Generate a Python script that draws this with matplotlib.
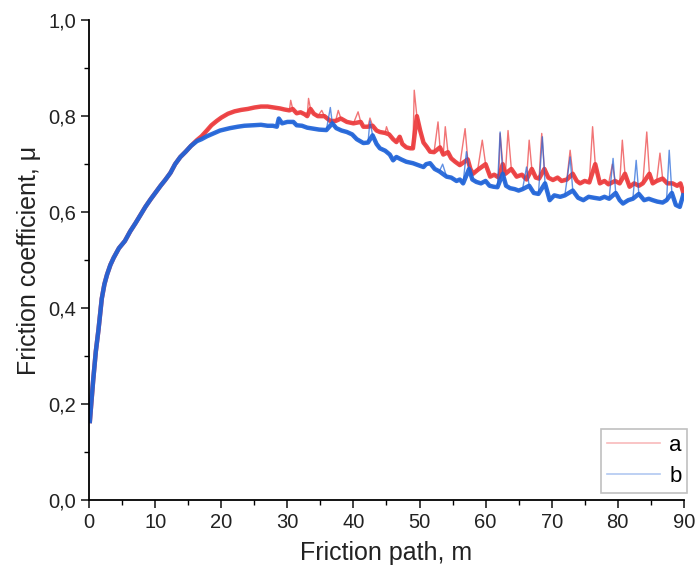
import matplotlib
import matplotlib.pyplot as plt
import numpy as np
from matplotlib.lines import Line2D
from matplotlib.ticker import MultipleLocator, FuncFormatter

matplotlib.use("Agg")

plt.rcParams["font.family"] = ["Liberation Sans", "DejaVu Sans"]

# Shared running-in part of both curves (path m, friction coefficient)
start_path = [0.1, 0.3, 0.6, 1.0, 1.4, 1.9, 2.3, 2.7, 3.2, 3.7, 4.5, 5.4, 6.2,
              7.0, 7.8, 8.5, 9.3, 10.0, 10.8, 11.5, 12.3, 13.0, 13.8, 14.6, 15.4]
start_mu = [0.165, 0.20, 0.25, 0.31, 0.355, 0.42, 0.45, 0.47, 0.49, 0.505, 0.525,
            0.54, 0.56, 0.577, 0.595, 0.611, 0.627, 0.64, 0.655, 0.667, 0.682,
            0.70, 0.715, 0.726, 0.738]

# curve a (red)
path_a = [16.3, 17.0, 17.8, 18.5, 19.3, 20.0, 21.0, 22.0, 23.0, 24.0, 25.0, 26.0,
          27.0, 28.0, 28.9, 29.5, 30.3, 30.5, 30.8, 31.4, 32.0, 32.6, 33.0, 33.2,
          33.5, 34.0, 34.6, 35.2, 35.6, 36.5, 37.3, 37.7, 38.1, 39.0, 40.0, 40.7,
          41.1, 41.5, 42.2, 42.5, 42.9, 43.5, 44.0, 44.8, 45.0, 45.4, 46.0, 46.5,
          47.0, 47.4, 48.0, 48.6, 49.0, 49.2, 49.6, 50.1, 50.6, 51.1, 51.6, 52.2,
          52.8, 53.1, 53.6, 53.9, 54.3, 54.8, 55.4, 56.1, 56.9, 57.3, 57.7, 58.1,
          58.8, 59.5, 60.0, 60.7, 61.3, 62.0, 62.2, 62.6, 63.0, 63.4, 63.9, 64.7,
          65.5, 66.2, 66.6, 67.0, 67.6, 68.1, 68.5, 68.9, 69.5, 70.2, 70.9, 71.5,
          72.3, 72.8, 73.2, 73.8, 74.3, 75.0, 75.7, 76.2, 76.6, 77.3, 78.0, 78.6,
          79.2, 79.6, 80.3, 80.7, 81.1, 81.8, 82.5, 83.2, 83.8, 84.4, 84.8, 85.3,
          85.9, 86.4, 86.8, 87.5, 88.3, 89.0, 89.5, 89.9]
mu_a = [0.75, 0.758, 0.77, 0.781, 0.79, 0.797, 0.805, 0.81, 0.813, 0.815, 0.818, 0.82,
        0.82, 0.818, 0.816, 0.814, 0.812, 0.833, 0.815, 0.806, 0.808, 0.804, 0.80, 0.837,
        0.815, 0.805, 0.80, 0.812, 0.80, 0.79, 0.79, 0.812, 0.795, 0.788, 0.785, 0.809,
        0.788, 0.778, 0.778, 0.796, 0.78, 0.77, 0.767, 0.765, 0.778, 0.762, 0.752, 0.746,
        0.757, 0.742, 0.735, 0.733, 0.733, 0.854, 0.80, 0.77, 0.745, 0.736, 0.726, 0.725,
        0.788, 0.735, 0.72, 0.778, 0.725, 0.712, 0.705, 0.698, 0.774, 0.71, 0.69, 0.68,
        0.688, 0.75, 0.70, 0.674, 0.678, 0.672, 0.764, 0.70, 0.68, 0.77, 0.69, 0.674,
        0.678, 0.668, 0.75, 0.69, 0.672, 0.67, 0.764, 0.69, 0.672, 0.667, 0.672, 0.665,
        0.668, 0.729, 0.68, 0.665, 0.66, 0.665, 0.662, 0.778, 0.70, 0.66, 0.665, 0.658,
        0.70, 0.665, 0.66, 0.75, 0.68, 0.653, 0.66, 0.655, 0.66, 0.767, 0.68, 0.66,
        0.665, 0.723, 0.67, 0.66, 0.66, 0.655, 0.66, 0.642]

# curve b (blue)
path_b = [16.3, 17.0, 17.8, 18.8, 19.8, 21.3, 22.5, 23.5, 24.8, 26.0, 27.0, 27.8,
          28.4, 28.7, 29.2, 30.0, 30.9, 31.4, 32.2, 33.0, 33.9, 34.8, 35.9, 36.5,
          36.8, 37.4, 38.2, 39.0, 39.8, 40.5, 41.0, 41.5, 42.2, 42.5, 42.9, 43.5,
          44.0, 44.8, 45.5, 46.0, 46.5, 47.2, 48.0, 49.0, 49.8, 50.6, 51.0, 51.6,
          52.3, 53.0, 53.5, 54.1, 54.8, 55.6, 56.1, 56.6, 57.1, 57.5, 58.0, 58.6,
          59.3, 60.0, 60.6, 61.2, 61.8, 62.2, 62.6, 63.1, 63.7, 64.4, 65.0, 65.6,
          66.2, 66.6, 67.3, 68.0, 68.6, 69.0, 69.7, 70.4, 71.3, 72.0, 72.8, 73.2,
          74.0, 74.8, 75.6, 76.4, 77.3, 78.0, 78.7, 79.3, 79.7, 80.3, 80.8, 81.6,
          82.3, 82.8, 83.2, 84.0, 84.7, 85.3, 86.0, 86.8, 87.4, 87.8, 88.2, 88.8,
          89.4, 89.9]
mu_b = [0.748, 0.752, 0.758, 0.764, 0.77, 0.775, 0.778, 0.78, 0.781, 0.782, 0.78, 0.78,
        0.778, 0.795, 0.785, 0.788, 0.788, 0.781, 0.78, 0.776, 0.774, 0.772, 0.771, 0.818,
        0.785, 0.775, 0.77, 0.767, 0.762, 0.752, 0.748, 0.744, 0.745, 0.79, 0.76, 0.742,
        0.733, 0.728, 0.72, 0.708, 0.715, 0.71, 0.705, 0.702, 0.698, 0.694, 0.70, 0.702,
        0.69, 0.685, 0.70, 0.674, 0.672, 0.665, 0.668, 0.66, 0.726, 0.69, 0.668, 0.663,
        0.66, 0.665, 0.655, 0.653, 0.652, 0.767, 0.68, 0.655, 0.65, 0.648, 0.645, 0.648,
        0.694, 0.655, 0.64, 0.638, 0.757, 0.66, 0.625, 0.635, 0.632, 0.635, 0.715, 0.645,
        0.63, 0.625, 0.632, 0.63, 0.628, 0.632, 0.628, 0.712, 0.64, 0.625, 0.618, 0.625,
        0.628, 0.708, 0.638, 0.625, 0.628, 0.625, 0.622, 0.62, 0.625, 0.729, 0.64, 0.615,
        0.611, 0.635]

RED = "#ec3a3c"
BLUE = "#1f63d8"


def draw_curve(ax, x, y, color):
    """Thin pale trace with the spikes, thick band for the running level."""
    x = np.asarray(x)
    y = np.asarray(y)
    ax.plot(x, y, color=color, lw=1.0, alpha=0.7)
    # spikes = points well above both neighbours; leave them out of the band
    spike = np.zeros(len(y), dtype=bool)
    spike[1:-1] = (y[1:-1] - np.maximum(y[:-2], y[2:])) > 0.012
    ax.plot(x[~spike], y[~spike], color=color, lw=3.2, alpha=0.92,
            solid_joinstyle="round")


fig = plt.figure(figsize=(6.97, 5.75), dpi=100)
ax = fig.add_axes([0.128, 0.130, 0.853, 0.835])

draw_curve(ax, start_path + path_a, start_mu + mu_a, RED)
draw_curve(ax, start_path + path_b, start_mu + mu_b, BLUE)

ax.set_xlim(0, 90)
ax.set_ylim(0, 1.0)
ax.xaxis.set_major_locator(MultipleLocator(10))
ax.xaxis.set_minor_locator(MultipleLocator(5))
ax.yaxis.set_major_locator(MultipleLocator(0.2))
ax.yaxis.set_minor_locator(MultipleLocator(0.1))
ax.yaxis.set_major_formatter(FuncFormatter(lambda v, _: f"{v:.1f}".replace(".", ",")))

for side in ("top", "right"):
    ax.spines[side].set_visible(False)
for side in ("left", "bottom"):
    ax.spines[side].set_linewidth(1.3)

ax.tick_params(which="major", direction="out", length=6, width=1.2,
               labelsize=14.5, colors="#222222")
ax.tick_params(which="minor", direction="out", length=3.5, width=1.0)

ax.set_xlabel("Friction path, m", fontsize=18, labelpad=6, color="#222222")
ax.set_ylabel("Friction coefficient, μ", fontsize=18, labelpad=5, color="#222222")

handles = [Line2D([], [], color=RED, lw=1.2, alpha=0.35),
           Line2D([], [], color=BLUE, lw=1.2, alpha=0.35)]
leg = ax.legend(handles, ["a", "b"], loc="lower right",
                bbox_to_anchor=(1.006, 0.016), fontsize=16, frameon=True,
                fancybox=False, edgecolor="#b0b0b0", handlelength=2.4,
                handletextpad=0.4, borderpad=0.25, borderaxespad=0.0,
                labelspacing=0.45)
leg.get_frame().set_linewidth(1.2)

fig.savefig("out.png", dpi=100)
